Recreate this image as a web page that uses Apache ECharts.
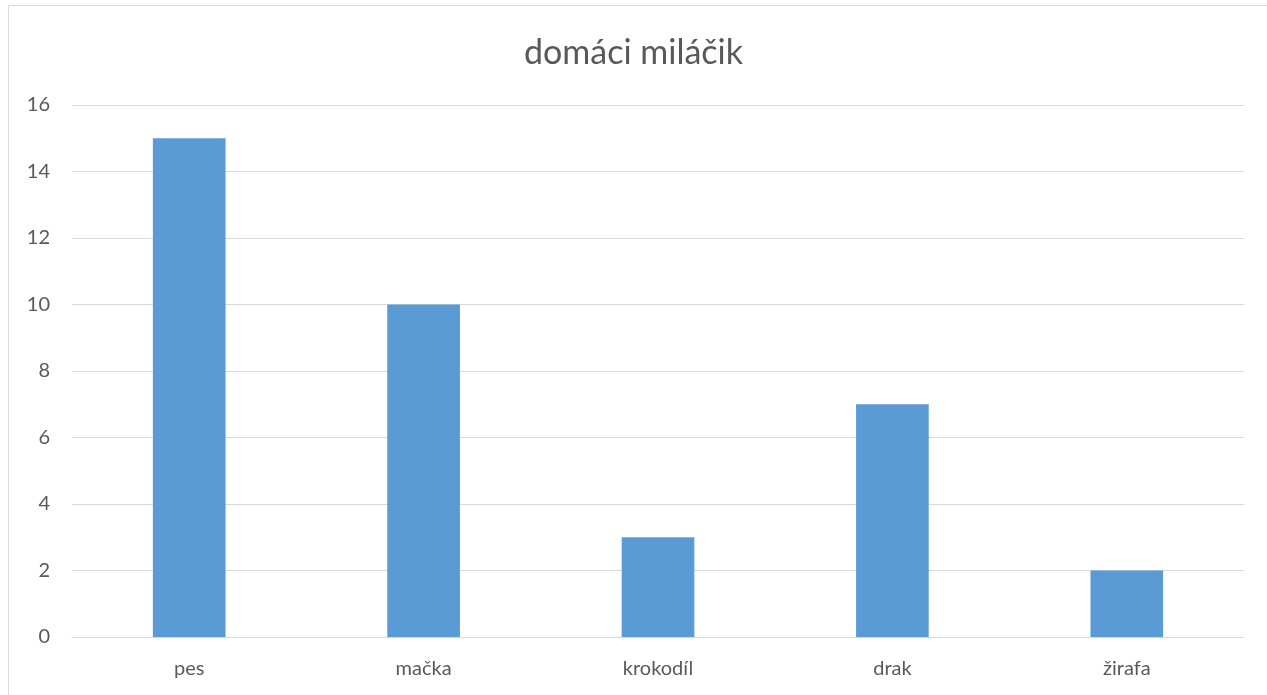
<!DOCTYPE html>
<html>
<head>
<meta charset="utf-8">
<script src="https://cdn.jsdelivr.net/npm/echarts@6/dist/echarts.min.js"></script>
<style>
html,body{margin:0;padding:0;background:#fff;}
#c{width:1267px;height:695px;}
</style>
</head>
<body>
<div id="c"></div>
<script>
const titleText = 'domáci miláčik';
const categories = ['pes', 'mačka', 'krokodíl', 'drak', 'žirafa'];
const values = [15, 10, 3, 7, 2];
const yTicks = [0, 2, 4, 6, 8, 10, 12, 14, 16];

const chart = echarts.init(document.getElementById('c'));
chart.setOption({
  animation: false,
  backgroundColor: '#fff',
  title: {
    text: titleText,
    left: 'center',
    top: 31,
    textStyle: {fontFamily: 'Lato', fontSize: 34, fontWeight: 'normal', color: '#595959'}
  },
  graphic: [{
    type: 'rect',
    shape: {x: 8.5, y: 5.5, width: 1270, height: 700},
    style: {fill: 'none', stroke: '#D9D9D9', lineWidth: 1},
    silent: true
  }],
  grid: {left: 72, right: 23, top: 105, bottom: 58},
  xAxis: {
    type: 'category',
    data: categories,
    axisLine: {show: true, lineStyle: {color: '#D9D9D9', width: 1}},
    axisTick: {show: false},
    axisLabel: {fontFamily: 'Lato', fontSize: 20, color: '#595959', margin: 22}
  },
  yAxis: {
    type: 'value',
    min: yTicks[0],
    max: yTicks[yTicks.length - 1],
    interval: 2,
    axisLine: {show: false},
    axisTick: {show: false},
    splitLine: {lineStyle: {color: '#D9D9D9', width: 1}},
    axisLabel: {fontFamily: 'Lato', fontSize: 20, color: '#595959', margin: 22}
  },
  series: [{
    type: 'bar',
    data: values,
    barWidth: '31%',
    itemStyle: {color: '#5B9BD5'}
  }]
});
</script>
</body>
</html>
